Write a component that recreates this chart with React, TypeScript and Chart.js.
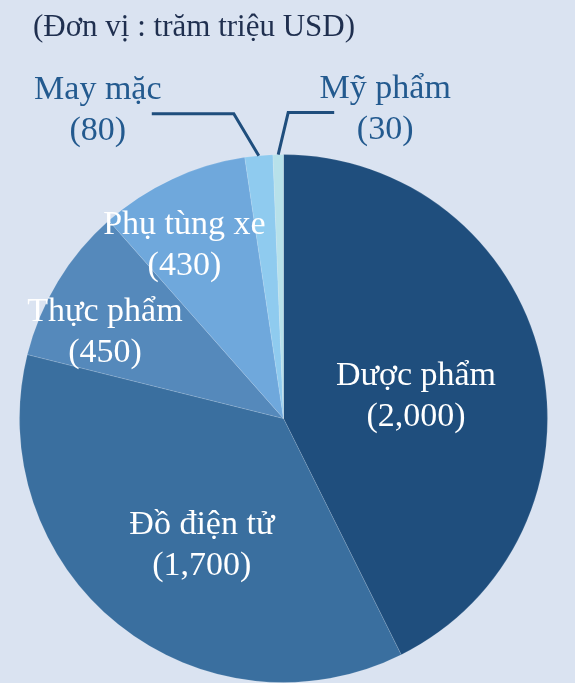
import React, { useEffect, useRef } from "react";
import { Chart, registerables } from "chart.js";

Chart.register(...registerables);

const categories = ["Dược phẩm", "Đồ điện tử", "Thực phẩm", "Phụ tùng xe", "May mặc", "Mỹ phẩm"];
const values = [2000, 1700, 450, 430, 80, 30];
const valueLabels = ["(2,000)", "(1,700)", "(450)", "(430)", "(80)", "(30)"];
const unitLabel = "(Đơn vị : trăm triệu USD)";

const colors = ["#1f4e7d", "#3a6f9f", "#5589bb", "#6fa8dc", "#8fcbef", "#b7e1ea"];
const BG = "#dae3f1";

type LabelStyle =
  | { kind: "in"; f: number; dx: number; dy: number }
  | { kind: "out"; ex: number; ey: number; hx: number; tx: number; ty: number };

const labelStyles: LabelStyle[] = [
  { kind: "in", f: 0.5, dx: 4, dy: 8 },
  { kind: "in", f: 0.5, dx: 1, dy: 24 },
  { kind: "in", f: 0.8, dx: 2, dy: 24 },
  { kind: "in", f: 0.8, dx: -10, dy: 19 },
  { kind: "out", ex: -25, ey: -42, hx: -82, tx: -54, ty: -3 },
  { kind: "out", ex: 10, ey: -42, hx: 46, tx: 51, ty: -3 },
];

const FONT = "'Liberation Serif', 'Times New Roman', serif";

const labelPlugin = {
  id: "customLabels",
  afterDraw(chart: any) {
    const ctx = chart.ctx as CanvasRenderingContext2D;
    const meta = chart.getDatasetMeta(0);
    ctx.save();
    ctx.font = `31px ${FONT}`;
    ctx.fillStyle = "#1f2f4f";
    ctx.textAlign = "left";
    ctx.textBaseline = "middle";
    ctx.fillText(unitLabel, 33, 28);

    const lineGap = 41;
    meta.data.forEach((arc: any, i: number) => {
      const { x, y, startAngle, endAngle, outerRadius } = arc.getProps(
        ["x", "y", "startAngle", "endAngle", "outerRadius"],
        true
      );
      const mid = (startAngle + endAngle) / 2;
      const st = labelStyles[i];
      ctx.font = `34px ${FONT}`;
      ctx.textAlign = "center";
      ctx.textBaseline = "middle";
      if (st.kind === "in") {
        const cx = x + Math.cos(mid) * outerRadius * st.f + st.dx;
        const cy = y + Math.sin(mid) * outerRadius * st.f + st.dy;
        ctx.fillStyle = "#ffffff";
        ctx.fillText(categories[i], cx, cy - lineGap / 2);
        ctx.fillText(valueLabels[i], cx, cy + lineGap / 2);
      } else {
        const sx = x + Math.cos(mid) * outerRadius;
        const sy = y + Math.sin(mid) * outerRadius;
        const ex = sx + st.ex;
        const ey = sy + st.ey;
        const hx = ex + st.hx;
        ctx.strokeStyle = "#1f4e7d";
        ctx.lineWidth = 3;
        ctx.beginPath();
        ctx.moveTo(sx, sy);
        ctx.lineTo(ex, ey);
        ctx.lineTo(hx, ey);
        ctx.stroke();
        const cx = hx + st.tx;
        const cy = ey + st.ty;
        ctx.fillStyle = "#235a8f";
        ctx.fillText(categories[i], cx, cy - lineGap / 2);
        ctx.fillText(valueLabels[i], cx, cy + lineGap / 2);
      }
    });
    ctx.restore();
  },
};

export default function App() {
  const ref = useRef<HTMLCanvasElement | null>(null);
  useEffect(() => {
    if (!ref.current) return;
    const chart = new Chart(ref.current, {
      type: "pie",
      data: {
        labels: categories,
        datasets: [
          {
            data: values,
            backgroundColor: colors,
            borderColor: "rgba(255,255,255,0.12)",
            borderWidth: 1,
          },
        ],
      },
      options: {
        responsive: false,
        animation: false,
        layout: { padding: { left: 17, right: 25, top: 154, bottom: -4 } },
        plugins: {
          legend: { display: false },
          tooltip: { enabled: false },
          title: { display: false },
        },
      },
      plugins: [labelPlugin],
    });
    return () => chart.destroy();
  }, []);
  return (
    <div
      style={{
        position: "fixed",
        left: 0,
        top: 0,
        width: 575,
        height: 683,
        background: BG,
      }}
    >
      <canvas ref={ref} width={575} height={683} style={{ display: "block" }} />
    </div>
  );
}
